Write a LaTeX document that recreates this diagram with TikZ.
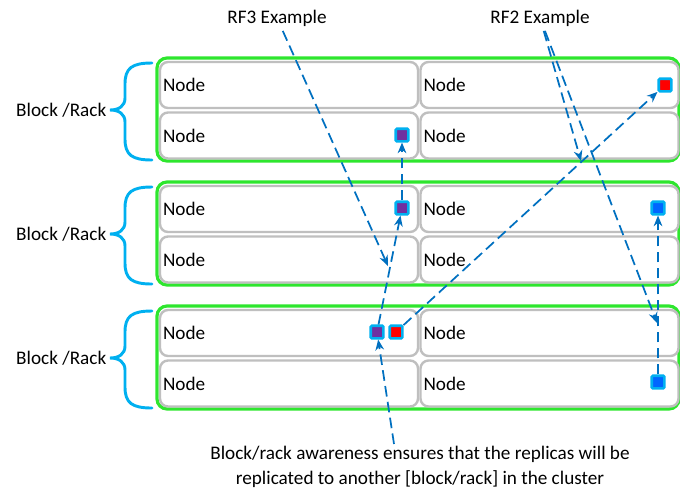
\documentclass[tikz,border=0pt]{standalone}
\usepackage{fontspec}
\setmainfont{Carlito}
\usetikzlibrary{arrows.meta}
\definecolor{rackgreen}{HTML}{2EE62E}
\definecolor{cellgray}{HTML}{BFBFBF}
\definecolor{bracecyan}{HTML}{00B0F0}
\definecolor{linkblue}{HTML}{0070C0}
\definecolor{blkpurple}{HTML}{7030A0}
\definecolor{blkred}{HTML}{FF0000}
\definecolor{blkblue}{HTML}{0066FF}
\tikzset{
  cell/.style={draw=cellgray, line width=1.8pt, fill=white, rounded corners=6pt,
    minimum width=193.5pt, minimum height=34.5pt, text width=189pt, align=left, inner xsep=2.25pt},
  rackframe/.style={draw=rackgreen, line width=2.4pt, rounded corners=7.5pt,
    minimum width=391.5pt, minimum height=77.25pt},
  replica/.style={draw=bracecyan, line width=1.9pt, minimum size=9.4pt, inner sep=0pt, rounded corners=0.8pt},
  link/.style={draw=linkblue, line width=1.3pt, dash pattern=on 8pt off 4pt,
    -{Stealth[length=8pt,width=6.5pt]}},
  rackbrace/.style={draw=bracecyan, line width=2.2pt, line cap=round}
}
\begin{document}
\begin{tikzpicture}[x=0.75pt, y=-0.75pt, every node/.style={font=\fontsize{14.4}{18.75}\selectfont}]
  \useasboundingbox (0,0) rectangle (680,490);
  % three block/rack groups
  \foreach \k in {1,2,3} {
    \pgfmathsetmacro{\dy}{124*(\k-1)}
    \begin{scope}[shift={(0,\dy)}]
      \node[rackframe] (rack\k) at (418,109.5) {};
      \node[cell] (n\k-tl) at (289,85) {Node};
      \node[cell] (n\k-tr) at (549.5,85) {Node};
      \node[cell] (n\k-bl) at (289,135.5) {Node};
      \node[cell] (n\k-br) at (549.5,135.5) {Node};
      \draw[rackbrace] (152,63) .. controls (132,63) and (125,68) .. (125,84) -- (125,98)
        .. controls (125,106) and (119,110) .. (110,110)
        .. controls (119,110) and (125,114) .. (125,122) -- (125,139)
        .. controls (125,155) and (132,160) .. (152,160);
      \node[anchor=east] (lbl\k) at (111,110) {Block /Rack};
    \end{scope}
  }
  % replicas
  \node[replica, fill=blkpurple] (p1) at (402,135) {};
  \node[replica, fill=blkred] (r1) at (665,85) {};
  \node[replica, fill=blkpurple] (p2) at (402,208) {};
  \node[replica, fill=blkblue] (u2) at (658,208) {};
  \node[replica, fill=blkpurple] (p3) at (377,332) {};
  \node[replica, fill=blkred] (r3) at (396,332) {};
  \node[replica, fill=blkblue] (u3) at (658,382) {};
  % captions
  \node (rf3) at (277,18) {RF3 Example};
  \node (rf2) at (540,18) {RF2 Example};
  \node[align=center] (note) at (420,467) {Block/rack awareness ensures that the replicas will be\\replicated to another [block/rack] in the cluster};
  \coordinate (rf3end) at (388,266);
  \coordinate (rf2mid) at (581,161);
  \coordinate (rf2end) at (657,323);
  \coordinate (notetop) at (394,444);
  % replication paths
  \draw[link] (rf3) -- (rf3end);
  \draw[link] (p3) -- (p2);
  \draw[link] (p2) -- (p1);
  \draw[link] (notetop) -- (p3);
  \draw[link] (rf2) -- (rf2mid);
  \draw[link] (rf2) -- (rf2end);
  \draw[link] (u3) -- (u2);
  \draw[link] (r3) -- (r1);
\end{tikzpicture}
\end{document}
